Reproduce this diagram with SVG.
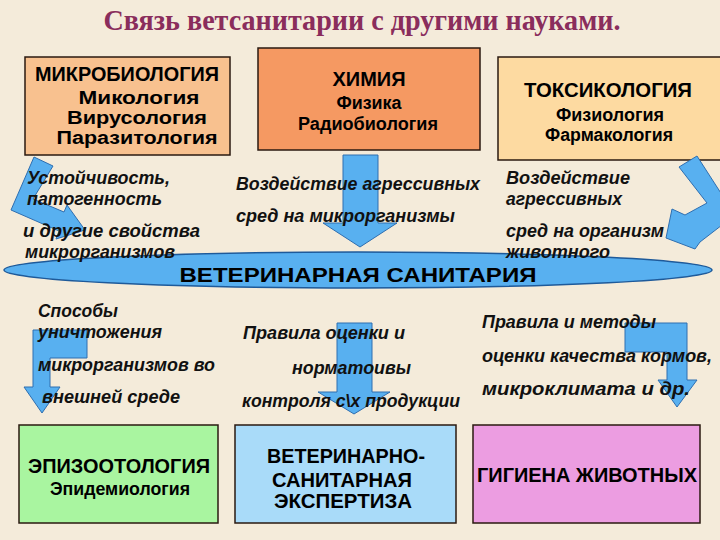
<svg xmlns="http://www.w3.org/2000/svg" width="720" height="540" viewBox="0 0 720 540">
<style>
.box{stroke:#2a1a10;stroke-width:1.5}
.h{font-family:"Liberation Sans",Arial,sans-serif;font-weight:bold;font-size:21px;fill:#000;text-anchor:middle}
.s{font-family:"Liberation Sans",Arial,sans-serif;font-weight:bold;font-size:18px;fill:#000;text-anchor:middle}
.i{font-family:"Liberation Sans",Arial,sans-serif;font-weight:bold;font-style:italic;font-size:19px;fill:#111}
.arr{fill:#58B0F0;stroke:#2E6EB0;stroke-width:1}
</style>
<rect width="720" height="540" fill="#F4EBDA"/>
<text x="362" y="30" font-family="'Liberation Serif','Times New Roman',serif" font-weight="bold" font-size="30" fill="#8A2D5C" text-anchor="middle" textLength="517" lengthAdjust="spacingAndGlyphs">Связь ветсанитарии с другими науками.</text>

<g id="mikrobiologiya">
<rect class="box" x="25" y="57" width="205" height="98" fill="#F8C18F"/>
<text class="h" x="127" y="81" textLength="184" lengthAdjust="spacingAndGlyphs">МИКРОБИОЛОГИЯ</text>
<text class="s" x="139" y="104" textLength="121" lengthAdjust="spacingAndGlyphs">Микология</text>
<text class="s" x="137" y="124" textLength="140" lengthAdjust="spacingAndGlyphs">Вирусология</text>
<text class="s" x="137" y="144" textLength="161" lengthAdjust="spacingAndGlyphs">Паразитология</text>
</g>
<g id="himiya">
<rect class="box" x="258" y="48" width="222" height="102" fill="#F59962"/>
<text class="h" x="369" y="86" textLength="73" lengthAdjust="spacingAndGlyphs">ХИМИЯ</text>
<text class="s" x="369" y="109" textLength="65" lengthAdjust="spacingAndGlyphs">Физика</text>
<text class="s" x="368" y="130" textLength="140" lengthAdjust="spacingAndGlyphs">Радиобиология</text>
</g>
<g id="toksikologiya">
<rect class="box" x="498" y="57" width="226" height="103" fill="#FDDAA1"/>
<text class="h" x="608" y="97" textLength="168" lengthAdjust="spacingAndGlyphs">ТОКСИКОЛОГИЯ</text>
<text class="s" x="610" y="121" textLength="108" lengthAdjust="spacingAndGlyphs">Физиология</text>
<text class="s" x="609" y="141" textLength="128" lengthAdjust="spacingAndGlyphs">Фармакология</text>
</g>

<g id="connectors">
<polygon class="arr" points="34,157 53,166 33,199 64,212 67,205 85,230 56,239 59,231 11,210"/>
<polygon class="arr" points="343,155 378,155 378,223 397,223 360,247 323,223 343,223"/>
<polygon class="arr" points="697,156 735,215 700,242 695,249 666,238 672,209 685,215 707,203 679,167"/>
<polygon class="arr" points="33,330 87,330 87,358 50,358 50,387 60,387 42,413 24,387 33,387"/>
<polygon class="arr" points="337,323 372,323 372,392 390,392 354,414 318,392 337,392"/>
<polygon class="arr" points="625,323 687,323 687,380 697,380 677,407 658,380 667,380 667,352 625,352"/>
</g>

<g id="vet-sanitariya">
<ellipse cx="358" cy="270" rx="354" ry="18" fill="#58B0F0" stroke="#1E5A9A" stroke-width="1.5"/>
<text class="h" x="358" y="282" font-size="23" textLength="357" lengthAdjust="spacingAndGlyphs">ВЕТЕРИНАРНАЯ САНИТАРИЯ</text>
</g>

<g id="labels">
<text class="i" x="27" y="184" textLength="143" lengthAdjust="spacingAndGlyphs">Устойчивость,</text>
<text class="i" x="27" y="205" textLength="135" lengthAdjust="spacingAndGlyphs">патогенность</text>
<text class="i" x="23" y="237" textLength="177" lengthAdjust="spacingAndGlyphs">и другие свойства</text>
<text class="i" x="25" y="258" textLength="150" lengthAdjust="spacingAndGlyphs">микрорганизмов</text>
<text class="i" x="236" y="190" textLength="244" lengthAdjust="spacingAndGlyphs">Воздействие агрессивных</text>
<text class="i" x="236" y="222" textLength="219" lengthAdjust="spacingAndGlyphs">сред на микрорганизмы</text>
<text class="i" x="506" y="184" textLength="124" lengthAdjust="spacingAndGlyphs">Воздействие</text>
<text class="i" x="506" y="205" textLength="116" lengthAdjust="spacingAndGlyphs">агрессивных</text>
<text class="i" x="506" y="237" textLength="158" lengthAdjust="spacingAndGlyphs">сред на организм</text>
<text class="i" x="506" y="258" textLength="104" lengthAdjust="spacingAndGlyphs">животного</text>
<text class="i" x="38" y="317" textLength="80" lengthAdjust="spacingAndGlyphs">Способы</text>
<text class="i" x="38" y="338" textLength="124" lengthAdjust="spacingAndGlyphs">уничтожения</text>
<text class="i" x="38" y="371" textLength="177" lengthAdjust="spacingAndGlyphs">микрорганизмов во</text>
<text class="i" x="42" y="403" textLength="138" lengthAdjust="spacingAndGlyphs">внешней среде</text>
<text class="i" x="243" y="339" textLength="162" lengthAdjust="spacingAndGlyphs">Правила оценки и</text>
<text class="i" x="292" y="374" textLength="119" lengthAdjust="spacingAndGlyphs">норматоивы</text>
<text class="i" x="242" y="407" textLength="218" lengthAdjust="spacingAndGlyphs">контроля с\х продукции</text>
<text class="i" x="482" y="328" textLength="174" lengthAdjust="spacingAndGlyphs">Правила и методы</text>
<text class="i" x="482" y="362" textLength="230" lengthAdjust="spacingAndGlyphs">оценки качества кормов,</text>
<text class="i" x="482" y="395" textLength="208" lengthAdjust="spacingAndGlyphs">микроклимата и др.</text>
</g>

<g id="epizootologiya">
<rect class="box" x="19" y="425" width="199" height="98" fill="#A9F5A0"/>
<text class="h" x="119" y="473" textLength="182" lengthAdjust="spacingAndGlyphs">ЭПИЗООТОЛОГИЯ</text>
<text class="s" x="120" y="495" textLength="140" lengthAdjust="spacingAndGlyphs">Эпидемиология</text>
</g>
<g id="vse">
<rect class="box" x="235" y="425" width="221" height="98" fill="#A9DBF9"/>
<text class="h" x="346" y="463" textLength="158" lengthAdjust="spacingAndGlyphs">ВЕТЕРИНАРНО-</text>
<text class="h" x="342" y="487" textLength="140" lengthAdjust="spacingAndGlyphs">САНИТАРНАЯ</text>
<text class="h" x="343" y="508" textLength="138" lengthAdjust="spacingAndGlyphs">ЭКСПЕРТИЗА</text>
</g>
<g id="gigiena">
<rect class="box" x="473" y="425" width="227" height="98" fill="#EC9DE1"/>
<text class="h" x="587" y="482" textLength="220" lengthAdjust="spacingAndGlyphs">ГИГИЕНА ЖИВОТНЫХ</text>
</g>
</svg>
